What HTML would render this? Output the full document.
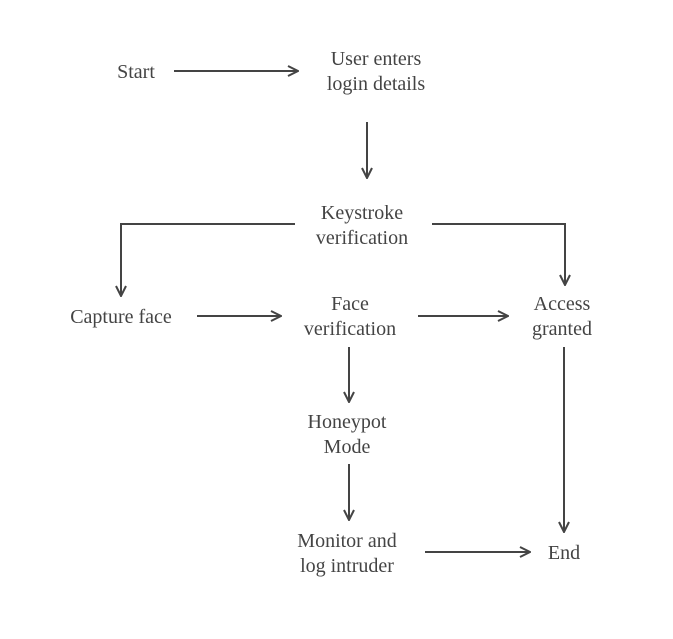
<!DOCTYPE html>
<html><head><meta charset="utf-8"><style>
html,body{margin:0;padding:0;background:#fff;}
svg{display:block;}
text{font-family:"Liberation Serif",serif;font-size:20px;fill:#444;text-anchor:middle;}
</style></head><body>
<svg width="673" height="639" viewBox="0 0 673 639" xmlns="http://www.w3.org/2000/svg">
<defs><marker id="a" viewBox="0 0 12 12" refX="11" refY="6" markerWidth="12" markerHeight="12" markerUnits="userSpaceOnUse" orient="auto"><path d="M1,1 L11,6 L1,11" fill="none" stroke="#444" stroke-width="2"/></marker></defs>
<g stroke="#444" stroke-width="2" fill="none" marker-end="url(#a)">
<path d="M174,71 H298"/>
<path d="M367,122 V178"/>
<path d="M295,224 H121 V296"/>
<path d="M432,224 H565 V285"/>
<path d="M197,316 H281"/>
<path d="M418,316 H508"/>
<path d="M349,347 V402"/>
<path d="M349,464 V520"/>
<path d="M425,552 H530"/>
<path d="M564,347 V532"/>
</g>
<text x="136" y="78">Start</text>
<text x="376" y="65">User enters</text>
<text x="376" y="90">login details</text>
<text x="362" y="219">Keystroke</text>
<text x="362" y="244">verification</text>
<text x="121" y="323">Capture face</text>
<text x="350" y="310">Face</text>
<text x="350" y="335">verification</text>
<text x="562" y="310">Access</text>
<text x="562" y="335">granted</text>
<text x="347" y="428">Honeypot</text>
<text x="347" y="453">Mode</text>
<text x="347" y="547">Monitor and</text>
<text x="347" y="572">log intruder</text>
<text x="564" y="559">End</text>
</svg>
</body></html>
